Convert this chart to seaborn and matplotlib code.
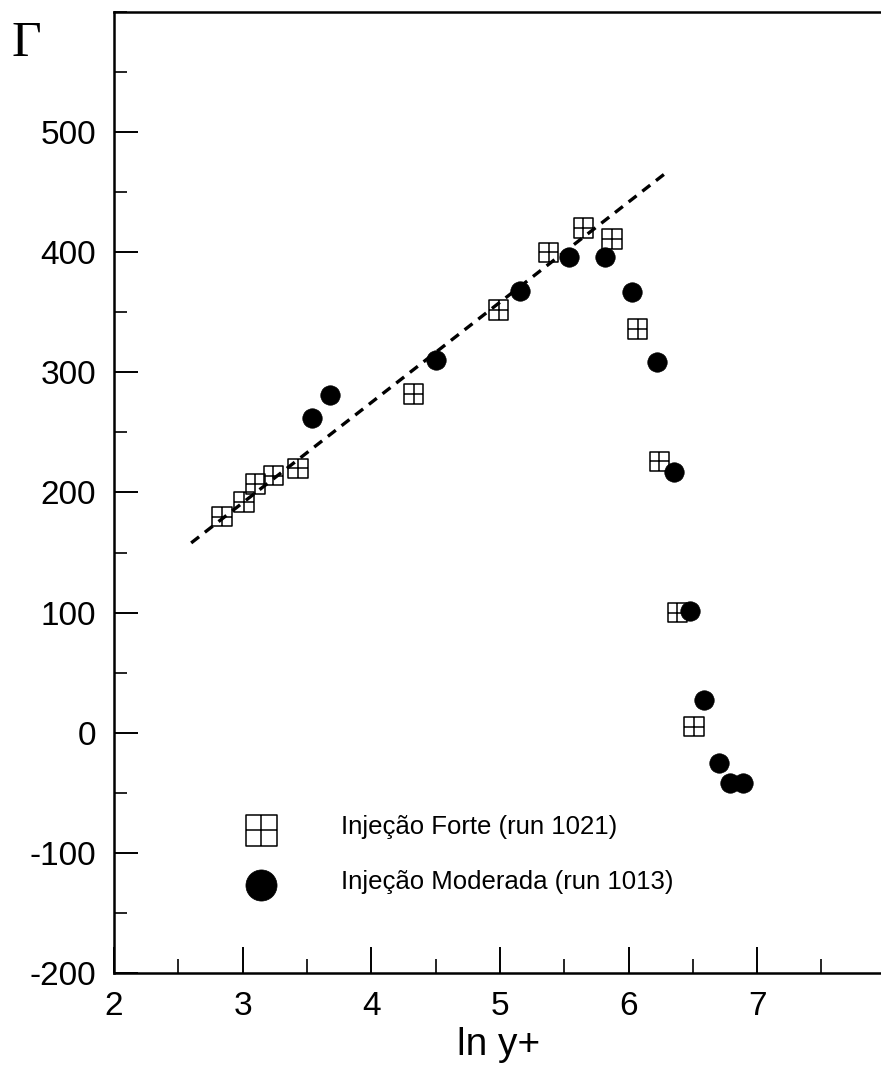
import numpy as np
import pandas as pd
import matplotlib
matplotlib.use("Agg")
import matplotlib.pyplot as plt
from matplotlib.path import Path
from matplotlib.ticker import FixedLocator, MultipleLocator
import seaborn as sns

# Injeção Forte (run 1021)
forte_ln_y = [2.84, 3.01, 3.10, 3.24, 3.43, 4.33, 4.99, 5.38, 5.65, 5.87, 6.07, 6.24, 6.38, 6.51]
forte_gamma = [180, 192, 207, 214, 220, 282, 352, 400, 420, 411, 336, 226, 100, 5]

# Injeção Moderada (run 1013)
moderada_ln_y = [3.54, 3.68, 4.50, 5.16, 5.54, 5.82, 6.03, 6.22, 6.35, 6.48, 6.59, 6.70, 6.79, 6.89]
moderada_gamma = [262, 281, 310, 368, 396, 396, 367, 309, 217, 101, 27, -25, -42, -42]

# log-law fit line
fit_ln_y = [2.60, 6.29]
fit_gamma = [158, 466]

label_forte = "Injeção Forte (run 1021)"
label_moderada = "Injeção Moderada (run 1013)"
x_ticks = [2, 3, 4, 5, 6, 7]
y_ticks = [-200, -100, 0, 100, 200, 300, 400, 500]

sns.set_style("ticks")
plt.rcParams["font.family"] = ["Liberation Sans", "DejaVu Sans"]
plt.rcParams["axes.unicode_minus"] = False
plt.rcParams["text.color"] = "black"
plt.rcParams["axes.labelcolor"] = "black"
plt.rcParams["xtick.color"] = "black"
plt.rcParams["ytick.color"] = "black"

# square with a cross inside
boxed_plus = Path(
    [(-1, -1), (1, -1), (1, 1), (-1, 1), (-1, -1),
     (0, -1), (0, 1), (-1, 0), (1, 0)],
    [Path.MOVETO, Path.LINETO, Path.LINETO, Path.LINETO, Path.CLOSEPOLY,
     Path.MOVETO, Path.LINETO, Path.MOVETO, Path.LINETO],
)

fig = plt.figure(figsize=(8.81, 10.72), dpi=100)
ax = fig.add_axes([0.1294, 0.0924, 0.8760, 0.8964])

df_f = pd.DataFrame({"x": forte_ln_y, "g": forte_gamma})
df_m = pd.DataFrame({"x": moderada_ln_y, "g": moderada_gamma})
df_fit = pd.DataFrame({"x": fit_ln_y, "g": fit_gamma})

sns.lineplot(data=df_fit, x="x", y="g", ax=ax, color="black", linewidth=2.4,
             linestyle=(0, (3.0, 2.2)), zorder=2)
sns.scatterplot(data=df_f, x="x", y="g", ax=ax, marker=boxed_plus, s=196,
                facecolor="none", edgecolor="black", linewidth=1.1,
                label=label_forte, zorder=3)
sns.scatterplot(data=df_m, x="x", y="g", ax=ax, marker="o", s=196,
                facecolor="black", edgecolor="black", linewidth=0.5,
                label=label_moderada, zorder=4)

ax.set_xlim(2, 8)
ax.set_ylim(-200, 600)
ax.xaxis.set_major_locator(FixedLocator(x_ticks))
ax.xaxis.set_minor_locator(MultipleLocator(0.5))
ax.yaxis.set_major_locator(FixedLocator(y_ticks))
ax.yaxis.set_minor_locator(MultipleLocator(50))
ax.tick_params(which="both", direction="in", top=False, right=False,
               labelsize=24, colors="black")
ax.tick_params(axis="x", which="major", length=19, width=1.4, pad=13)
ax.tick_params(axis="x", which="minor", length=10, width=1.2)
ax.tick_params(axis="y", which="major", length=17, width=1.4, pad=13)
ax.tick_params(axis="y", which="minor", length=9, width=1.2)

for side in ["left", "bottom", "top", "right"]:
    ax.spines[side].set_visible(True)
    ax.spines[side].set_linewidth(1.8)
    ax.spines[side].set_color("black")

ax.set_xlabel("ln y+", fontsize=28)
ax.xaxis.set_label_coords(0.4987, -0.075)
ax.xaxis.label.set_va("center")
ax.set_ylabel("Γ", fontsize=37, rotation=0, family=["Liberation Serif", "DejaVu Serif"])
ax.yaxis.set_label_coords(-0.113, 0.967)
ax.yaxis.label.set_va("center")
ax.yaxis.label.set_ha("center")

handles, labels = ax.get_legend_handles_labels()
leg = ax.legend(handles, labels, loc="upper left",
                bbox_to_anchor=(246 / 881, 1 - 815 / 1072),
                bbox_transform=fig.transFigure, frameon=False,
                fontsize=18.5, borderpad=0, borderaxespad=0,
                handlelength=1.2, handletextpad=2.5, labelspacing=1.2,
                markerscale=1.6, scatterpoints=1, scatteryoffsets=[0.2])
for t in leg.get_texts():
    t.set_color("black")

fig.savefig("out.png", dpi=100)
